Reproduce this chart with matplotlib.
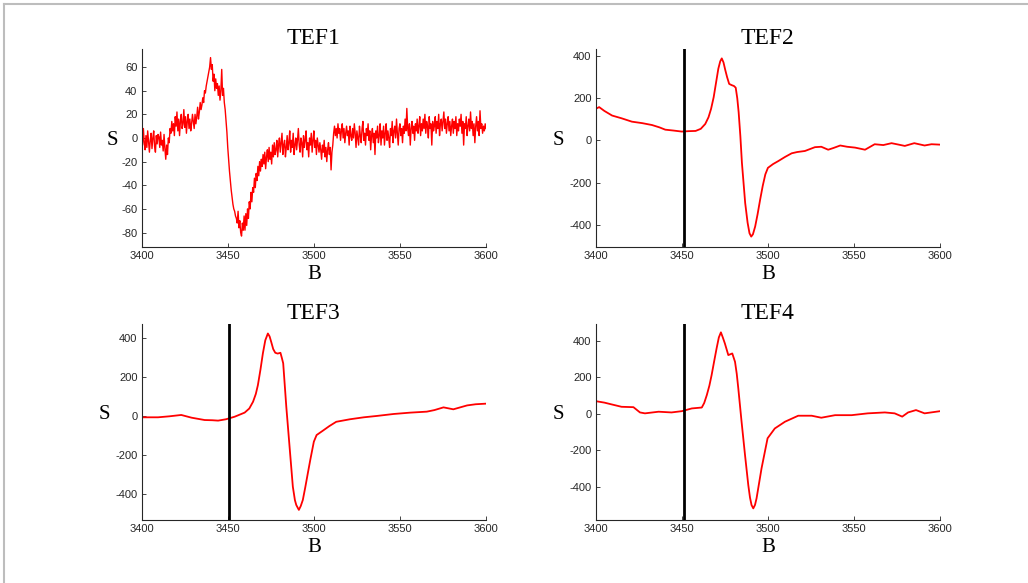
import matplotlib.pyplot as plt
from matplotlib.lines import Line2D

plt.rcParams['axes.unicode_minus'] = False

# champ B (G) et signal S
# TEF1 : pas de 0.5 G
b1 = [3400 + 0.5 * k for k in range(401)]
s1 = [5, -6, 8, -4, -10, 2, -8, 6, -3, -12,
      -2, 4, -9, 0, 6, -7, -12, 2, -5, 3,
      1, -8, 5, -6, -2, -11, 3, -9, -18, -6,
      -14, 0, -4, 8, 4, 14, 6, 12, 2, 18,
      10, 22, 6, 16, 2, 14, 20, 8, 12, 24,
      9, 18, 4, 14, 20, 8, 16, 6, 12, 20,
      14, 8, 20, 12, 18, 26, 16, 22, 30, 24,
      28, 34, 30, 40, 38, 44, 48, 52, 56, 60,
      68, 58, 62, 48, 54, 40, 50, 42, 46, 36,
      44, 32, 40, 58, 36, 42, 30, 24, 15, 5,
      -8, -18, -28, -36, -44, -50, -56, -60, -62, -66,
      -68, -72, -62, -76, -70, -80, -83, -72, -78, -66,
      -78, -64, -74, -60, -68, -54, -60, -46, -54, -42,
      -46, -34, -42, -30, -36, -24, -32, -20, -28, -18,
      -24, -14, -22, -12, -26, -16, -10, -20, -8, -18,
      -12, -22, -6, -16, -4, -14, -10, -2, -16, -6,
      0, -12, -4, 4, -14, -6, -2, -16, -8, 2,
      -10, -4, 6, -12, -2, -8, 4, -14, -6, 0,
      -10, -2, 8, -6, -12, 0, -4, -16, 2, -8,
      -2, 6, -10, -4, -16, 0, -6, 4, -12, -2,
      6, -8, -2, -14, 0, -6, -12, -4, -10, -18,
      -6, -12, -2, -16, -8, -20, -10, -4, -14, -8,
      -27, -12, -6, 4, 10, 2, 8, 0, 12, 4,
      8, -2, 6, 12, 0, 8, -4, 4, 10, 2,
      6, -6, 10, 2, -2, 8, 0, 12, 4, -8,
      6, 0, -6, 10, 2, -4, 8, 14, -2, 4,
      -6, 8, 2, 12, -2, 6, -10, 2, 8, -4,
      4, -14, 6, 0, 10, -4, 2, 12, -6, 6,
      0, 10, -6, 4, 12, -2, 6, 0, -8, 8,
      2, 14, -4, 6, 10, 0, 16, 4, -6, 8,
      12, 2, 8, -4, 10, 4, 16, 6, 25, 8,
      2, 12, -6, 8, 14, 4, 10, -2, 12, 6,
      16, 4, 10, 18, 2, 12, 6, 16, 8, 20,
      4, 14, 10, 0, 18, 8, 12, -6, 14, 6,
      10, 18, 4, 14, 8, 20, 2, 12, 16, 6,
      14, 22, 8, 16, 4, 12, 18, 6, 14, 2,
      10, 16, 4, 14, 8, 18, 2, 12, 6, 16,
      10, 20, 4, 14, -6, 12, 8, 18, 2, 10,
      16, 6, 22, 8, 14, 2, 12, -4, 10, 18,
      6, 14, 2, 23, 8, 12, 4, 10, 6, 12,
      8]

b2 = [3400, 3402, 3405, 3409.5, 3415, 3421, 3427, 3432.7, 3437, 3440.4, 3445, 3450,
      3454, 3458, 3461, 3463.6, 3465.5, 3467, 3468.5, 3470, 3471.2, 3472.3, 3473.2,
      3474.2, 3475.2, 3476.3, 3477.5, 3479, 3480.3, 3481.3, 3482.2, 3483, 3484,
      3484.9, 3486.8, 3488.2, 3489.3, 3490.3, 3491.3, 3492.6, 3494, 3495.5, 3497,
      3498.5, 3500, 3503, 3506, 3510, 3513.8, 3517, 3521.5, 3527.3, 3531,
      3535, 3538, 3542, 3546, 3550.6, 3556.4, 3562, 3567, 3571.8, 3576, 3579.5, 3585,
      3591, 3595, 3600]
s2 = [150, 158, 140, 118, 105, 89, 82, 73, 62, 51, 47, 42,
      44, 45, 55, 78, 110, 150, 205, 280, 340, 375, 389,
      370, 335, 300, 268, 262, 258, 250, 200, 134, 20,
      -106, -297, -390, -440, -456, -445, -408, -350,
      -280, -215, -161, -130, -112, -98, -78, -61, -55, -50, -32, -30,
      -44, -36, -24, -30, -34, -44, -18, -22, -13, -20, -26, -13,
      -24, -18, -20]

b3 = [3400, 3409.5, 3416, 3423, 3429, 3436.6, 3441, 3444.4, 3449, 3454, 3459.8,
      3462.5, 3464.7, 3466.3, 3467.5, 3469, 3470.4, 3471.8, 3473.3, 3474.3, 3475.2,
      3476.4, 3477.6, 3479, 3480.6, 3481.4, 3482.2, 3484, 3485.9, 3487.8, 3489,
      3489.8, 3491.3, 3492.4, 3493.6, 3495, 3496.5, 3498, 3500, 3501.6, 3505.5,
      3509, 3513, 3521, 3529, 3536.6, 3546.3, 3556, 3565.6, 3570, 3575.3, 3581,
      3589, 3594, 3600]
s3 = [-5, -5, 0, 7, -7, -19, -20, -22, -15, -2, 19,
      40, 75, 115, 160, 240, 323, 390, 425, 410, 383,
      345, 326, 322, 326, 300, 272, 49, -156, -361, -430,
      -455, -480, -460, -429, -365, -292, -220, -130, -96, -72,
      -50, -28, -15, -5, 2, 12, 19, 24, 32, 46, 36,
      56, 62, 65]

b4 = [3400, 3405, 3409.3, 3415, 3421.9, 3425.7, 3428.6, 3436.5, 3444, 3450, 3455.8,
      3461.6, 3463, 3464.5, 3466, 3467.3, 3468.8, 3470.2, 3471.5, 3472.7, 3473.8, 3475,
      3477, 3479.3, 3480.9, 3481.9, 3482.8, 3484.7, 3486.7, 3488.6, 3489.6, 3490.5,
      3491.5, 3492.5, 3493.4, 3496.3, 3499.8, 3504, 3509.9, 3517.6, 3525.4, 3531,
      3539, 3548.6, 3558, 3567.9, 3573.6, 3578, 3581.4, 3586, 3591, 3600]
s4 = [70, 62, 52, 39, 37, 8, 3, 12, 8, 15, 30,
      35, 60, 103, 155, 213, 290, 360, 420, 448, 420, 387,
      323, 332, 286, 220, 140, -43, -226, -391, -460, -501,
      -519, -500, -464, -299, -134, -80, -43, -10, -10, -21,
      -7, -7, 3, 8, 3, -15, 8, 21, 3, 15]

titres = ["TEF1", "TEF2", "TEF3", "TEF4"]
B = [b1, b2, b3, b4]
S = [s1, s2, s3, s4]
ylims = [(-92, 75), (-504, 432), (-532, 472), (-583, 492)]
yticks = [list(range(-80, 61, 20)), [-400, -200, 0, 200, 400],
          [-400, -200, 0, 200, 400], [-400, -200, 0, 200, 400]]
xticks = [3400, 3450, 3500, 3550, 3600]
trait = 3451

fig = plt.figure(figsize=(10.28, 5.83), dpi=100)
pos = [[0.1378, 0.5768, 0.335, 0.3386], [0.5795, 0.5768, 0.335, 0.3386],
       [0.1378, 0.108, 0.335, 0.3357], [0.5795, 0.108, 0.335, 0.3357]]
serif = ['Liberation Serif', 'DejaVu Serif']

for i in range(4):
    ax = fig.add_axes(pos[i])
    ax.plot(B[i], S[i], color='red', lw=1.0 if i == 0 else 1.3)
    if i > 0:
        ax.axvline(trait, color='black', lw=2)
    ax.set_xlim(3400, 3600)
    ax.set_ylim(ylims[i])
    ax.set_xticks(xticks)
    ax.set_yticks(yticks[i])
    ax.spines['top'].set_visible(False)
    ax.spines['right'].set_visible(False)
    for sp in ['left', 'bottom']:
        ax.spines[sp].set_color('#262626')
        ax.spines[sp].set_linewidth(0.8)
    ax.tick_params(direction='in', length=3, width=0.6, labelsize=8,
                   colors='#262626', pad=3)
    for lab in ax.get_xticklabels() + ax.get_yticklabels():
        lab.set_family('Liberation Sans')
    ax.set_title(titres[i], family=serif, fontsize=17, pad=4)
    ax.set_xlabel("B", family=serif, fontsize=15, labelpad=3)
    ax.set_ylabel("S", family=serif, fontsize=15, rotation=0, va='center', ha='center')
    ax.yaxis.set_label_coords(-0.086 if i == 0 else -0.109, 0.54)

# cadre gris de la capture
fig.add_artist(Line2D([0.004, 0.004], [0, 0.993], color='#bdbdbd', lw=1.5))
fig.add_artist(Line2D([0.004, 1], [0.993, 0.993], color='#bdbdbd', lw=1.5))

plt.savefig("out.png", dpi=100)
